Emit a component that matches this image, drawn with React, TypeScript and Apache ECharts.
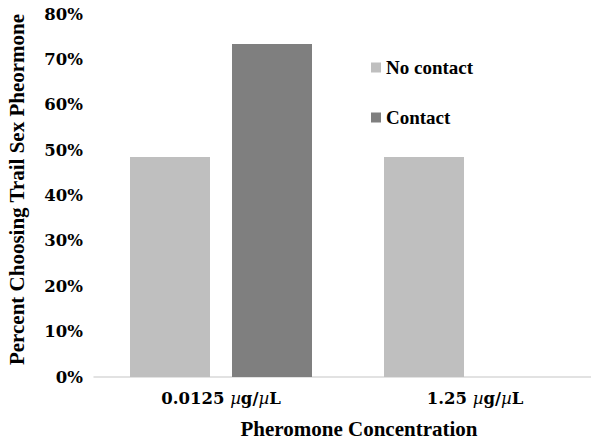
import React, { useEffect, useRef } from "react";
import * as echarts from "echarts";

const categories = ["0.0125 {i|µ}g/{i|µ}L", "1.25 {i|µ}g/{i|µ}L"];
const noContact = [48.5, 48.5];
const contact = [73.4, null];
const seriesNames = ["No contact", "Contact"];
const yTicks = { min: 0, max: 80, interval: 10 };

export default function App() {
  const ref = useRef<HTMLDivElement>(null);
  useEffect(() => {
    const chart = echarts.init(ref.current!, undefined, { renderer: "svg" });
    const tickFont = "'DejaVu Serif', serif";
    const titleFont = "'Liberation Serif', 'Times New Roman', serif";
    chart.setOption({
      animation: false,
      backgroundColor: "#ffffff",
      grid: {
        left: 94,
        top: 14,
        width: 508,
        bottom: 63,
        containLabel: false,
        outerBoundsMode: "none",
      },
      legend: {
        orient: "vertical",
        left: 366,
        top: 53,
        itemWidth: 10,
        itemHeight: 10,
        itemGap: 31,
        icon: "rect",
        textStyle: { fontFamily: titleFont, fontWeight: "bold", fontSize: 19, color: "#000" },
        data: seriesNames,
      },
      xAxis: {
        type: "category",
        data: categories,
        axisLine: { lineStyle: { color: "#D9D9D9", width: 1.5 } },
        axisTick: { show: false },
        axisLabel: {
          margin: 13,
          color: "#000",
          fontFamily: tickFont,
          fontWeight: "bold",
          fontSize: 16.5,
          rich: {
            i: { fontFamily: tickFont, fontStyle: "italic", fontWeight: "normal", fontSize: 16.5, color: "#000" },
          },
        },
        name: "Pheromone Concentration",
        nameLocation: "middle",
        nameGap: 41,
        nameTextStyle: {
          fontFamily: titleFont,
          fontWeight: "bold",
          fontSize: 21,
          color: "#000",
          padding: [0, 0, 0, 22],
        },
      },
      yAxis: {
        type: "value",
        min: yTicks.min,
        max: yTicks.max,
        interval: yTicks.interval,
        axisLine: { show: false },
        axisTick: { show: false },
        splitLine: { show: false },
        axisLabel: {
          margin: 11,
          formatter: (v: number) => v + "%",
          color: "#000",
          fontFamily: tickFont,
          fontWeight: "bold",
          fontSize: 16.5,
        },
        name: "Percent Choosing Trail Sex Pheormone",
        nameLocation: "middle",
        nameGap: 67,
        nameTextStyle: {
          fontFamily: titleFont,
          fontWeight: "bold",
          fontSize: 21,
          color: "#000",
          padding: [0, 0, 0, 12],
        },
      },
      series: [
        {
          name: seriesNames[0],
          type: "bar",
          data: noContact,
          barWidth: 80,
          barGap: "27.5%",
          itemStyle: { color: "#BFBFBF" },
        },
        {
          name: seriesNames[1],
          type: "bar",
          data: contact,
          barWidth: 80,
          barGap: "27.5%",
          itemStyle: { color: "#7F7F7F" },
        },
      ],
    });
    return () => chart.dispose();
  }, []);
  return (
    <div
      ref={ref}
      style={{ position: "fixed", left: 0, top: 0, width: 591, height: 440 }}
    />
  );
}
